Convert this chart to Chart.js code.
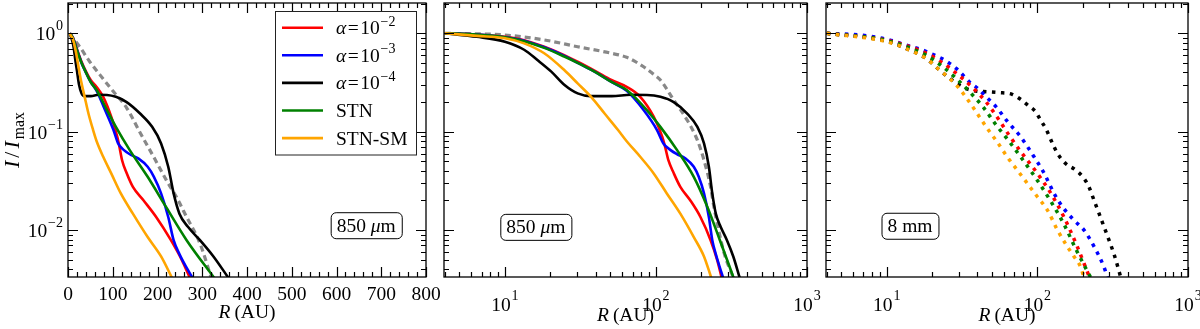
<!DOCTYPE html>
<html>
<head>
<meta charset="utf-8">
<script src="https://cdn.jsdelivr.net/npm/chart.js@4"></script>
<style>
  html, body { margin: 0; padding: 0; background: #fff; }
  #wrap { position: relative; width: 1200px; height: 329px; overflow: hidden; }
  #wrap canvas { position: absolute; top: 0; }
</style>
</head>
<body>
<div id="wrap">
  <canvas id="p1" width="444" height="329" style="left:0px"></canvas>
  <canvas id="p2" width="392" height="329" style="left:430px"></canvas>
  <canvas id="p3" width="388" height="329" style="left:812px"></canvas>
</div>
<script>
// ---- 850 micron profiles (left and middle panel), R in AU, I/Imax ----
var rA2 = [4, 6.5, 10, 13.4, 18.2, 24.7, 30.3, 40, 50.7, 64, 78.7, 96.6, 110, 115, 121, 131, 145, 169, 197, 230, 255, 272];
var iA2 = [1.0, 0.97, 0.92, 0.85, 0.73, 0.60, 0.514, 0.41, 0.335, 0.285, 0.226, 0.142, 0.089, 0.070, 0.051, 0.038, 0.0275, 0.020, 0.0136, 0.0079, 0.0049, 0.0033];

var rA3 = [4, 6.5, 10, 13.4, 18.2, 24.7, 30.3, 40, 50.7, 64, 82.8, 101.6, 112, 125, 138, 157, 178, 192, 208, 224, 236, 249, 263, 278];
var iA3 = [1.0, 0.97, 0.91, 0.84, 0.72, 0.59, 0.50, 0.40, 0.32, 0.26, 0.166, 0.104, 0.076, 0.065, 0.059, 0.0535, 0.044, 0.0348, 0.0236, 0.0136, 0.0079, 0.0057, 0.0043, 0.0033];

var rA4 = [4, 6.5, 10, 13.4, 16.4, 20.2, 24.7, 30.3, 37, 51, 68, 87, 107, 131, 161, 188, 208, 224, 236, 249, 268, 295, 325, 358];
var iA4 = [1.0, 0.92, 0.82, 0.68, 0.535, 0.41, 0.30, 0.245, 0.23, 0.23, 0.237, 0.236, 0.226, 0.20, 0.153, 0.112, 0.076, 0.044, 0.0236, 0.0147, 0.0108, 0.0079, 0.0054, 0.0033];

var rStn = [4, 6.5, 10, 13.4, 18.2, 24.7, 30.3, 40, 50.7, 64, 87, 107, 138, 178, 219, 265, 326];
var iStn = [1.0, 0.97, 0.91, 0.83, 0.71, 0.58, 0.50, 0.40, 0.32, 0.265, 0.166, 0.112, 0.065, 0.0348, 0.0172, 0.0079, 0.0033];

var rStnSm = [4, 6.5, 10, 13.4, 18.2, 24.7, 30.3, 37.2, 45.7, 56.1, 64, 78.7, 96.6, 118, 145, 178, 208, 232];
var iStnSm = [1.0, 0.94, 0.89, 0.79, 0.626, 0.423, 0.31, 0.226, 0.153, 0.104, 0.080, 0.0556, 0.0377, 0.0236, 0.0147, 0.0085, 0.0054, 0.0033];

// grey dashed reference profile, as it appears in the linear panel and in the log panel
var rGrayLin = [4, 26, 48.6, 71, 100, 131, 160, 190, 220, 242, 265, 295, 320];
var iGrayLin = [0.98, 0.73, 0.514, 0.38, 0.26, 0.175, 0.10, 0.057, 0.032, 0.0218, 0.0136, 0.0073, 0.0033];
var rGrayLog = [4, 10, 18.2, 30.3, 50.7, 64, 82.8, 95, 107, 131, 161, 188, 208, 230, 242, 262, 283, 325];
var iGrayLog = [1.0, 0.96, 0.855, 0.73, 0.626, 0.57, 0.457, 0.39, 0.335, 0.21, 0.131, 0.082, 0.0514, 0.0275, 0.0172, 0.0095, 0.0058, 0.0033];

// ---- 8 mm profiles (right panel) ----
var rA2mm = [4, 10, 18.2, 23.5, 30.3, 37.2, 45.7, 56, 64, 77.4, 100, 123, 150, 184, 205, 222];
var iA2mm = [1.0, 0.85, 0.63, 0.50, 0.37, 0.28, 0.20, 0.13, 0.095, 0.063, 0.0377, 0.0236, 0.0136, 0.0068, 0.0045, 0.0033];

var rA3mm = [4, 6.6, 10, 13.4, 17.3, 20.2, 23, 26.1, 28.9, 32, 35.4, 40.2, 45.7, 53.2, 63, 77.4, 95, 111, 129, 147, 175, 204, 238, 277, 292];
var iA3mm = [1.0, 0.96, 0.87, 0.76, 0.676, 0.61, 0.557, 0.495, 0.44, 0.377, 0.32, 0.275, 0.226, 0.179, 0.128, 0.0887, 0.0556, 0.0377, 0.0236, 0.0172, 0.0126, 0.010, 0.0068, 0.0042, 0.0033];

var rA4mm = [4, 10, 13.4, 18.2, 22.4, 26.1, 30, 34, 40, 46, 55, 68, 77.4, 88, 97.5, 105, 113.6, 126, 136, 154, 180, 204, 220, 238, 257, 277, 299, 324, 358];
var iA4mm = [1.0, 0.83, 0.70, 0.557, 0.423, 0.35, 0.30, 0.272, 0.258, 0.255, 0.25, 0.24, 0.213, 0.182, 0.159, 0.131, 0.108, 0.076, 0.06, 0.0475, 0.0407, 0.0335, 0.0275, 0.020, 0.0147, 0.0108, 0.0079, 0.0056, 0.0033];

var rStnMm = [4, 10, 18.2, 23.5, 28.9, 35.4, 43.5, 53.2, 64, 77.4, 100, 123, 150, 184, 226];
var iStnMm = [1.0, 0.84, 0.60, 0.457, 0.348, 0.255, 0.179, 0.117, 0.082, 0.0556, 0.032, 0.0195, 0.0115, 0.0060, 0.0033];

var rStnSmMm = [4, 10, 13.4, 18.2, 22.4, 26.1, 30.3, 37.2, 45.7, 56, 63, 73.6, 85.8, 100, 116.5, 136, 158, 175, 194, 204];
var iStnSmMm = [1.0, 0.82, 0.70, 0.557, 0.423, 0.348, 0.275, 0.179, 0.112, 0.073, 0.0556, 0.0407, 0.0298, 0.0218, 0.016, 0.010, 0.0068, 0.0054, 0.0042, 0.0033];

// ---- axes / labels ----
var seriesNames = ["α=10^−2", "α=10^−3", "α=10^−4", "STN", "STN-SM"];
var linTicks = [0, 100, 200, 300, 400, 500, 600, 700, 800];
var logTicks = [10, 100, 1000];
var yTicks = [0.01, 0.1, 1];
var yRange = [0.00334, 2.03];
var logRange = [3.95, 1000];

var FONT = '"Liberation Serif", "DejaVu Serif", serif';
var FS = 19.5;

function pts(r, v) {
  return r.map(function (x, i) { return { x: x, y: v[i] }; });
}

function line(name, r, v, color, order, dash, width) {
  return {
    label: name,
    data: pts(r, v),
    borderColor: color,
    borderWidth: width || 2.6,
    borderDash: dash || [],
    pointRadius: 0,
    fill: false,
    cubicInterpolationMode: "monotone",
    order: order
  };
}

function segFont(s, size) {
  var sz = (s.sup || s.sub) ? size * 0.72 : size;
  return (s.it ? "italic " : "") + sz + "px " + FONT;
}
function richWidth(ctx, segs, size) {
  var w = 0;
  segs.forEach(function (s) {
    ctx.font = segFont(s, size);
    w += ctx.measureText(s.t).width + (s.pre || 0) + (s.post || 0);
  });
  return w;
}
function drawRich(ctx, segs, x, y, size, align, raise) {
  var w = richWidth(ctx, segs, size);
  var cx = align === "center" ? x - w / 2 : (align === "right" ? x - w : x);
  ctx.textAlign = "left";
  ctx.textBaseline = "alphabetic";
  segs.forEach(function (s) {
    ctx.font = segFont(s, size);
    var dy = s.sup ? -raise : (s.sub ? size * 0.22 : 0);
    cx += s.pre || 0;
    ctx.fillText(s.t, cx, y + dy);
    cx += ctx.measureText(s.t).width + (s.post || 0);
  });
  return w;
}
function powSegs(base, exp) {
  return [{ t: base }, { t: exp, sup: true, pre: 0.8 }];
}
function nameSegs(name) {
  if (name.indexOf("^") < 0) return [{ t: name }];
  var p = name.split("^");
  var head = p[0];
  var segs = [];
  if (head.charAt(0) === "α") {
    segs.push({ t: "α", it: true, post: 1.5 });
    segs.push({ t: "=", post: 1.5 });
    segs.push({ t: head.slice(2) });
  } else {
    segs.push({ t: head });
  }
  segs.push({ t: p[1], sup: true, pre: 0.8 });
  return segs;
}
function fmtExp(v) {
  var e = Math.round(Math.log10(v));
  return e < 0 ? "−" + (-e) : String(e);
}

function minorLog(min, max) {
  var out = [];
  for (var d = -4; d <= 3; d++) {
    for (var k = 2; k <= 9; k++) {
      var v = k * Math.pow(10, d);
      if (v >= min && v <= max) out.push(v);
    }
  }
  return out;
}

var framePlugin = {
  id: "frame",
  afterDatasetsDraw: function (chart, args, o) {
    var ctx = chart.ctx;
    var a = chart.chartArea;
    var xs = chart.scales.x, ys = chart.scales.y;
    ctx.save();
    ctx.strokeStyle = "#000";
    ctx.fillStyle = "#000";

    // inward ticks on all four sides
    ctx.lineWidth = 1.2;
    function tickX(v, len) {
      var px = Math.round(xs.getPixelForValue(v)) + 0.5;
      ctx.beginPath();
      ctx.moveTo(px, a.bottom); ctx.lineTo(px, a.bottom - len);
      ctx.moveTo(px, a.top); ctx.lineTo(px, a.top + len);
      ctx.stroke();
    }
    function tickY(v, len) {
      var py = Math.round(ys.getPixelForValue(v)) + 0.5;
      ctx.beginPath();
      ctx.moveTo(a.left, py); ctx.lineTo(a.left + len, py);
      ctx.moveTo(a.right, py); ctx.lineTo(a.right - len, py);
      ctx.stroke();
    }
    var xMajor = o.logX ? logTicks : linTicks;
    var xMinor = [];
    if (o.logX) {
      xMinor = minorLog(xs.min, xs.max);
    } else {
      for (var m = 20; m < 800; m += 20) if (m % 100) xMinor.push(m);
    }
    xMajor.forEach(function (v) { tickX(v, 10); });
    xMinor.forEach(function (v) { tickX(v, 5); });
    yTicks.forEach(function (v) { tickY(v, 10); });
    minorLog(ys.min, ys.max).forEach(function (v) { tickY(v, 5); });

    // frame
    ctx.lineWidth = 1.3;
    ctx.strokeRect(a.left, a.top, a.right - a.left, a.bottom - a.top);

    // x tick labels
    xMajor.forEach(function (v) {
      var px = xs.getPixelForValue(v);
      if (o.logX) {
        drawRich(ctx, powSegs("10", fmtExp(v)), px, a.bottom + 34, FS, "center", 11);
      } else {
        drawRich(ctx, [{ t: String(v) }], px, a.bottom + 23, FS, "center", 0);
      }
    });

    // y tick labels (left panel only)
    if (o.yLabels) {
      yTicks.forEach(function (v) {
        var py = ys.getPixelForValue(v);
        drawRich(ctx, powSegs("10", fmtExp(v)), a.left - 5, py + 7, FS, "right", 10);
      });
      ctx.save();
      ctx.translate(19, (a.top + a.bottom) / 2);
      ctx.rotate(-Math.PI / 2);
      drawRich(ctx, [{ t: "I", it: true, post: 3 }, { t: "/", post: 3 }, { t: "I", it: true },
        { t: "max", sub: true, pre: 2 }], 0, 0, 22, "center", 0);
      ctx.restore();
    }

    // x axis title
    drawRich(ctx, [{ t: "R", it: true, post: 4 }, { t: "(AU)" }],
      (a.left + a.right) / 2, o.logX ? 321 : 318, FS, "center", 0);

    // wavelength note in a rounded box
    var nx = a.left + o.noteFx * (a.right - a.left);
    var ny = a.top + o.noteFy * (a.bottom - a.top);
    var nsegs = o.note === "8 mm" ? [{ t: "8 mm" }] : [{ t: "850 " }, { t: "μ", it: true }, { t: "m" }];
    var nw = richWidth(ctx, nsegs, FS) + 12;
    ctx.lineWidth = 1;
    ctx.beginPath();
    ctx.roundRect(nx - nw / 2 + 0.5, ny - 13 + 0.5, nw, 26, 5);
    ctx.fillStyle = "#fff";
    ctx.fill();
    ctx.stroke();
    ctx.fillStyle = "#000";
    drawRich(ctx, nsegs, nx, ny + 6.5, FS, "center", 0);

    // legend (left panel)
    if (o.legend) {
      var lx = 275.5, ly = 11.5, lw = 141, lh = 143.5;
      ctx.fillStyle = "#fff";
      ctx.fillRect(lx, ly, lw, lh);
      ctx.strokeStyle = "#222";
      ctx.lineWidth = 1;
      ctx.strokeRect(lx, ly, lw, lh);
      var dsets = chart.data.datasets;
      seriesNames.forEach(function (name, i) {
        var ds = dsets.filter(function (d) { return d.label === name; })[0];
        var yy = 27.7 + i * 27.6;
        ctx.strokeStyle = ds.borderColor;
        ctx.lineWidth = 2.6;
        ctx.setLineDash([]);
        ctx.beginPath();
        ctx.moveTo(282, yy); ctx.lineTo(323, yy);
        ctx.stroke();
        ctx.fillStyle = "#000";
        drawRich(ctx, nameSegs(name), 336, yy + 6.5, FS, "left", 8.5);
      });
    }
    ctx.restore();
  }
};

function makeChart(id, xType, xMin, xMax, leftW, rightPad, datasets, frameOpts) {
  return new Chart(document.getElementById(id).getContext("2d"), {
    type: "line",
    data: { datasets: datasets },
    options: {
      responsive: false,
      animation: false,
      layout: { padding: { left: 0, right: rightPad, top: 3, bottom: 0 } },
      scales: {
        x: {
          type: xType, min: xMin, max: xMax,
          grid: { display: false }, border: { display: false },
          ticks: { display: false },
          afterFit: function (s) { s.height = 52; }
        },
        y: {
          type: "logarithmic", min: yRange[0], max: yRange[1],
          grid: { display: false }, border: { display: false },
          ticks: { display: false },
          afterFit: function (s) { s.width = leftW; }
        }
      },
      plugins: {
        legend: { display: false },
        tooltip: { enabled: false },
        frame: frameOpts
      }
    },
    plugins: [framePlugin]
  });
}

function submmSets(rGray, iGray) {
  return [
    line("gray", rGray, iGray, "#888888", 10, [6, 4], 3.2),
    line(seriesNames[0], rA2, iA2, "#ff0000", 5),
    line(seriesNames[1], rA3, iA3, "#0000ff", 4),
    line(seriesNames[2], rA4, iA4, "#000000", 3),
    line(seriesNames[3], rStn, iStn, "#008000", 2),
    line(seriesNames[4], rStnSm, iStnSm, "#ffa500", 1)
  ];
}
function mmSets() {
  var dot = [3.5, 5.5];
  return [
    line(seriesNames[2], rA4mm, iA4mm, "#000000", 5, dot, 3.5),
    line(seriesNames[1], rA3mm, iA3mm, "#0000ff", 4, dot, 3.5),
    line(seriesNames[0], rA2mm, iA2mm, "#ff0000", 3, dot, 3.5),
    line(seriesNames[3], rStnMm, iStnMm, "#008000", 2, dot, 3.5),
    line(seriesNames[4], rStnSmMm, iStnSmMm, "#ffa500", 1, dot, 3.5)
  ];
}

makeChart("p1", "linear", 0, 800, 68, 18, submmSets(rGrayLin, iGrayLin),
  { logX: false, yLabels: true, legend: true, note: "850 μm", noteFx: 0.833, noteFy: 0.811 });
makeChart("p2", "logarithmic", logRange[0], logRange[1], 14, 15, submmSets(rGrayLog, iGrayLog),
  { logX: true, yLabels: false, legend: false, note: "850 μm", noteFx: 0.253, noteFy: 0.817 });
makeChart("p3", "logarithmic", logRange[0], logRange[1], 14, 12, mmSets(),
  { logX: true, yLabels: false, legend: false, note: "8 mm", noteFx: 0.232, noteFy: 0.813 });
</script>
</body>
</html>
